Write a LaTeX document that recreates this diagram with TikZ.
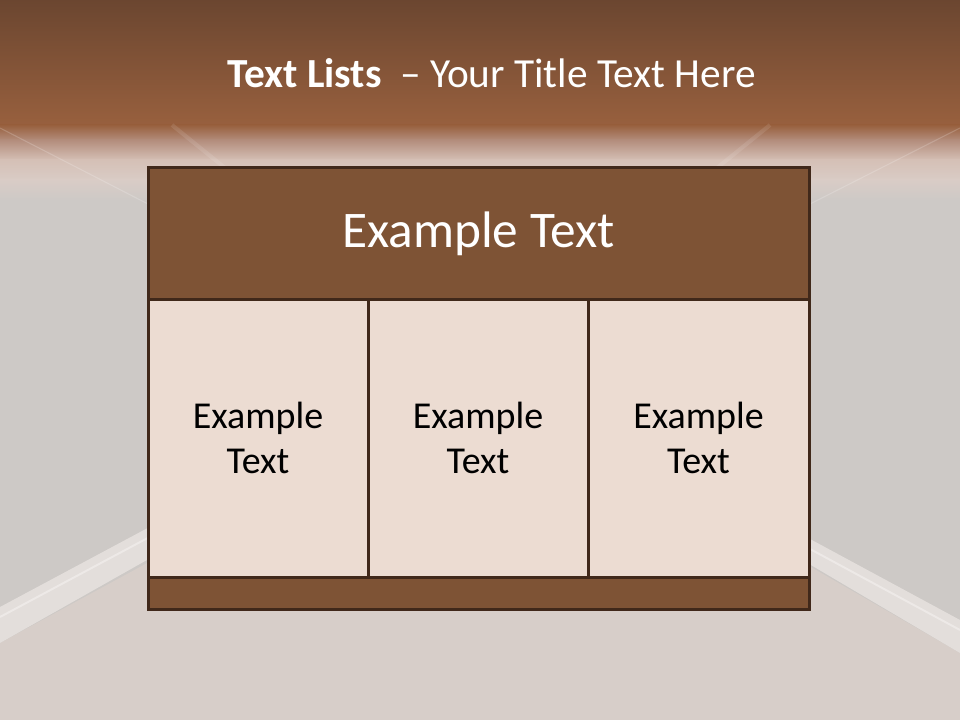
\documentclass[tikz,border=0pt]{standalone}
\usepackage{fontspec}
\setmainfont{Carlito}
\definecolor{bgA}{HTML}{6B4630}
\definecolor{bgB}{HTML}{98603E}
\definecolor{bgC}{HTML}{B38D7C}
\definecolor{bgD}{HTML}{D5C0B6}
\definecolor{bgE}{HTML}{D9CCC6}
\definecolor{wallgray}{HTML}{CDC9C6}
\definecolor{floorc}{HTML}{D7CEC9}
\definecolor{baseb}{HTML}{E3DEDB}
\definecolor{basebl}{HTML}{EDE9E7}
\definecolor{brownfill}{HTML}{7E5335}
\definecolor{borderc}{HTML}{40281A}
\definecolor{cellfill}{HTML}{ECDCD2}
\tikzset{
  band/.style={draw=none},
  boxline/.style={draw=borderc, line width=2.25pt, line join=miter},
  titletext/.style={text=white, font=\fontsize{31}{37}\selectfont, inner sep=0pt},
  headtext/.style={text=white, font=\fontsize{38.5}{46}\selectfont, inner sep=0pt},
  celltext/.style={text=black, font=\fontsize{28.5}{33.8}\selectfont, align=center, inner sep=0pt},
}
\begin{document}
\begin{tikzpicture}[x=0.75pt, y=-0.75pt]
\useasboundingbox (0,0) rectangle (960,720);
% background
\fill[wallgray] (0,0) rectangle (960,720);
\shade[band, top color=bgA, bottom color=bgB] (0,-0.5) rectangle (960,125.5);
\shade[band, top color=bgB, bottom color=bgC] (0,125) rectangle (960,140.5);
\shade[band, top color=bgC, bottom color=bgD] (0,140) rectangle (960,160.5);
\shade[band, top color=bgD, bottom color=bgE] (0,160) rectangle (960,180.5);
\shade[band, top color=bgE, bottom color=wallgray] (0,180) rectangle (960,200.5);
% faint ceiling edges
\draw[white, opacity=0.18, line width=0.8pt] (0,128) -- (148,204);
\draw[white, opacity=0.18, line width=0.8pt] (960,128) -- (810,204);
\draw[white, opacity=0.1, line width=3pt] (172,125) -- (230,172);
\draw[white, opacity=0.1, line width=3pt] (770,125) -- (712,172);
% floor
\fill[floorc] (0,643) -- (300,480) -- (660,480) -- (960,653) -- (960,720) -- (0,720) -- cycle;
% baseboards
\fill[baseb] (0,607) -- (200,500) -- (200,530) -- (0,643) -- cycle;
\fill[baseb] (960,620) -- (760,512) -- (760,535) -- (960,653) -- cycle;
\draw[basebl, line width=1.5pt] (0,617) -- (200,510);
\draw[basebl, line width=1.5pt] (960,630) -- (760,522);
% table
\fill[brownfill] (148,168) rectangle (809,300);
\fill[cellfill] (148,300) rectangle (809,577);
\fill[brownfill] (148,577) rectangle (809,609);
\draw[boxline] (148,168) rectangle (809,609);
\draw[boxline] (148,300) -- (809,300);
\draw[boxline] (148,577) -- (809,577);
\draw[boxline] (368,300) -- (368,577);
\draw[boxline] (588,300) -- (588,577);
% texts
\node[titletext, anchor=base] (title) at (491.5,88) {\textbf{Text Lists}\ \ – Your Title Text Here};
\node[headtext, anchor=base] (head) at (478.5,248) {Example Text};
\node[celltext] (c1) at (258,438) {Example\\Text};
\node[celltext] (c2) at (478,438) {Example\\Text};
\node[celltext] (c3) at (698.5,438) {Example\\Text};
\end{tikzpicture}
\end{document}
